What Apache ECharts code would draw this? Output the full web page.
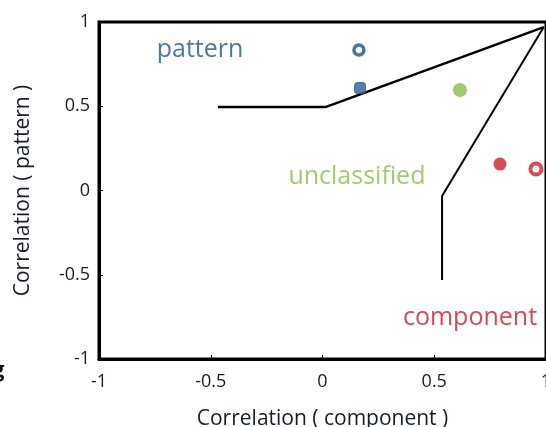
<!DOCTYPE html>
<html>
<head>
<meta charset="utf-8">
<script src="https://cdn.jsdelivr.net/npm/echarts@6/dist/echarts.min.js"></script>
<style>
  html, body { margin: 0; padding: 0; background: #fff; overflow: hidden; }
  #chart { width: 546px; height: 427px; }
</style>
</head>
<body>
<div id="chart"></div>
<script>
// Tick values on both axes
const ticks = [-1, -0.5, 0, 0.5, 1];

// Observations: [component correlation, pattern correlation]
const patternRing = [[0.163, 0.834]];
const patternSquare = [[0.168, 0.608]];
const unclassifiedPts = [[0.615, 0.596]];
const componentFilled = [[0.794, 0.157]];
const componentRing = [[0.955, 0.128]];

// Decision boundaries
const patternBoundary = [[-0.468, 0.496], [0.016, 0.496], [0.99, 0.97]];
const componentBoundary = [[0.99, 0.97], [0.535, -0.033], [0.535, -0.531]];

// Region names and where they sit
const regionNames = ['pattern', 'unclassified', 'component'];
const regionPos = [[-0.548, 0.834], [0.154, 0.08], [0.66, -0.757]];
const regionColors = ['#1f5196', '#8dba4c', '#cc1a27'];

const FONT = '"Open Sans", "Noto Sans", sans-serif';
const BLUE = '#1f4f8f', GREEN = '#8bbb4b', RED = '#cc1f2b';
const INK = '#161c2a';

const chart = echarts.init(document.getElementById('chart'), null, { renderer: 'canvas' });

const axisCommon = {
  type: 'value', min: -1, max: 1, interval: 0.5,
  splitLine: { show: false },
  axisLine: { show: true, onZero: false, lineStyle: { color: '#000', width: 3 } },
  axisTick: { show: true, inside: true, length: 4, lineStyle: { color: '#000', width: 1 } },
  nameTextStyle: { color: INK, fontSize: 21, fontFamily: FONT },
  nameLocation: 'middle'
};

const option = {
  animation: false,
  grid: {
    left: 99, right: 0, top: 22, bottom: 68,
    outerBoundsMode: 'none',
    show: true, borderColor: '#000', borderWidth: 3, backgroundColor: 'transparent'
  },
  xAxis: Object.assign({}, axisCommon, {
    name: 'Correlation ( component )', nameGap: 50,
    axisLabel: {
      color: INK, fontSize: 18, fontFamily: FONT, margin: 14,
      formatter: v => ticks.includes(v) ? String(v) : ''
    }
  }),
  yAxis: Object.assign({}, axisCommon, {
    name: 'Correlation ( pattern )', nameGap: 65, nameRotate: 90,
    axisLabel: {
      color: INK, fontSize: 18, fontFamily: FONT, margin: 9,
      padding: [0, 0, 4, 0],
      formatter: v => ticks.includes(v) ? String(v) : ''
    }
  }),
  graphic: [{
    type: 'text', left: -8, top: 360,
    style: { text: 'g', fontSize: 22, fontWeight: 'bold', fill: '#111', fontFamily: FONT }
  }],
  series: [
    {
      type: 'line', data: patternBoundary, symbol: 'none',
      lineStyle: { color: '#000', width: 2.5 }, z: 3
    },
    {
      type: 'line', data: componentBoundary, symbol: 'none',
      lineStyle: { color: '#000', width: 2 }, z: 3
    },
    {
      type: 'scatter', data: patternRing, symbol: 'circle', symbolSize: 10,
      itemStyle: { color: '#fff', borderColor: BLUE, borderWidth: 3.5 }, z: 4
    },
    {
      type: 'scatter', data: patternSquare, symbol: 'roundRect', symbolSize: 11,
      itemStyle: { color: '#2f5f9e', borderColor: '#2a5793', borderWidth: 1 }, z: 4
    },
    {
      type: 'scatter', data: unclassifiedPts, symbol: 'circle', symbolSize: 14,
      itemStyle: { color: GREEN }, z: 4
    },
    {
      type: 'scatter', data: componentFilled, symbol: 'circle', symbolSize: 13,
      itemStyle: { color: RED }, z: 4
    },
    {
      type: 'scatter', data: componentRing, symbol: 'circle', symbolSize: 11,
      itemStyle: { color: '#fff', borderColor: RED, borderWidth: 4 }, z: 4
    },
    {
      type: 'scatter', symbolSize: 0, z: 5,
      data: regionNames.map((n, i) => ({
        value: regionPos[i], name: n,
        label: { color: regionColors[i] }
      })),
      label: {
        show: true, position: 'inside', formatter: p => p.name,
        fontSize: 25, fontFamily: FONT
      }
    }
  ]
};

chart.setOption(option);
</script>
</body>
</html>
